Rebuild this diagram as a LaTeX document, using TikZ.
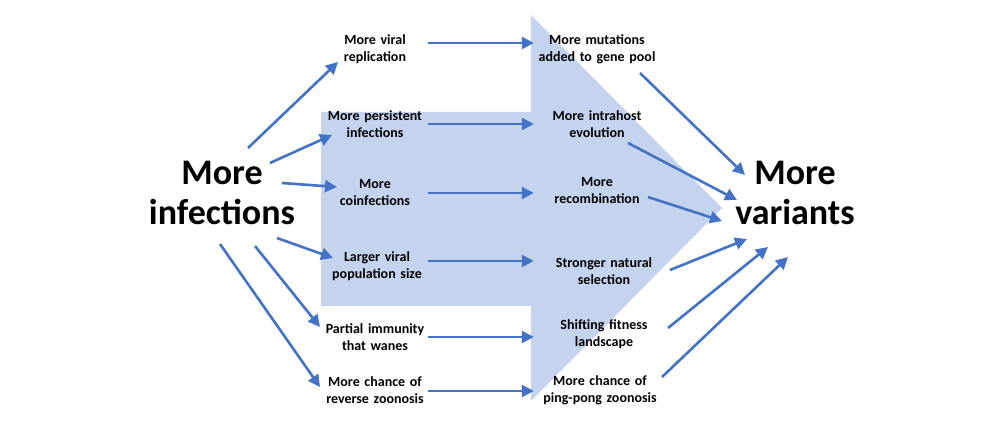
\documentclass[tikz,border=0pt]{standalone}
\usepackage{fontspec}
\setmainfont{Carlito}
\usetikzlibrary{calc,arrows.meta}
\definecolor{arrowblue}{RGB}{68,114,196}
\definecolor{shadeblue}{RGB}{197,212,238}
\tikzset{
	small/.style={font=\bfseries\fontsize{14}{17}\selectfont, align=center, inner sep=0pt},
	lbox/.style={small, text width=104pt},
	rbox/.style={small, text width=126pt},
	big/.style={font=\bfseries\fontsize{36}{40}\selectfont, align=center, inner sep=0pt},
	conn/.style={draw=arrowblue, line width=2.6pt, -{Triangle[length=12pt,width=12pt]}}
}

\begin{document}
\begin{tikzpicture}[x=1pt,y=-1pt]
			%%%%% START %%%%%
			\useasboundingbox (0,0) rectangle (1007,438);
			
			% big arrow in the back
			\fill[shadeblue] (321,112) -- (531,112) -- (531,15) -- (722,208) -- (531,401) -- (531,306) -- (321,306) -- cycle;
			
			\node[big] (inf) at (222,193) {More\\infections};
			\node[big] (var) at (795,193) {More\\variants};
			
			\node[lbox] (vr) at (375,49) {More viral\\replication};
			\node[lbox] (pi) at (375,124) {More persistent\\infections};
			\node[lbox] (co) at (375,193) {More\\coinfections};
			\node[lbox] (lv) at (377,266) {Larger viral\\population size};
			\node[lbox] (pw) at (375,337) {Partial immunity\\that wanes};
			\node[lbox] (rz) at (375,390) {More chance of\\reverse zoonosis};
			
			\node[rbox] (mm) at (597,49) {More mutations\\added to gene pool};
			\node[rbox] (ih) at (597,124) {More intrahost\\evolution};
			\node[rbox] (rc) at (597,191) {More\\recombination};
			\node[rbox] (ns) at (604,271) {Stronger natural\\selection};
			\node[rbox] (fl) at (604,334) {Shifting fitness\\landscape};
			\node[rbox] (pp) at (600,390) {More chance of\\ping-pong zoonosis};
			
			% left fan
			\draw[conn] ($(inf)+(26,-45)$) -- ($(vr)+(-37,13)$);
			\draw[conn] ($(inf)+(48,-30)$) -- ($(pi)+(-43,11)$);
			\draw[conn] ($(inf)+(60,-10)$) -- ($(co)+(-38,-6)$);
			\draw[conn] ($(inf)+(55,45)$) -- ($(lv)+(-44,-8)$);
			\draw[conn] ($(inf)+(33,53)$) -- ($(pw)+(-55,-10)$);
			\draw[conn] ($(inf)+(-2,51)$) -- ($(rz)+(-55,-3)$);
			
			% across
			\draw[conn] ($(vr.east)+(1,-6)$) -- ($(vr.east -| rc.west)+(0,-6)$);
			\draw[conn] ($(pi.east)+(1,0)$) -- (pi.east -| rc.west);
			\draw[conn] ($(co.east)+(1,0)$) -- (co.east -| rc.west);
			\draw[conn] ($(lv.east)+(-1,-5)$) -- ($(lv.east -| rc.west)+(0,-5)$);
			\draw[conn] ($(pw.east)+(1,0)$) -- (pw.east -| rc.west);
			\draw[conn] ($(rz.east)+(1,1)$) -- ($(rz.east -| rc.west)+(0,1)$);
			
			% right fan
			\draw[conn] ($(mm)+(43,24)$) -- ($(var)+(-50,-18)$);
			\draw[conn] ($(ih)+(31,19)$) -- ($(var)+(-58,7)$);
			\draw[conn] ($(rc)+(51,6)$) -- ($(var)+(-73,28)$);
			\draw[conn] ($(ns)+(66,-1)$) -- ($(var)+(-48,46)$);
			\draw[conn] ($(fl)+(64,-6)$) -- ($(var)+(-27,54)$);
			\draw[conn] ($(pp)+(62,-13)$) -- ($(var)+(-7,64)$);
			%%%%% END %%%%%
\end{tikzpicture}
\end{document}
